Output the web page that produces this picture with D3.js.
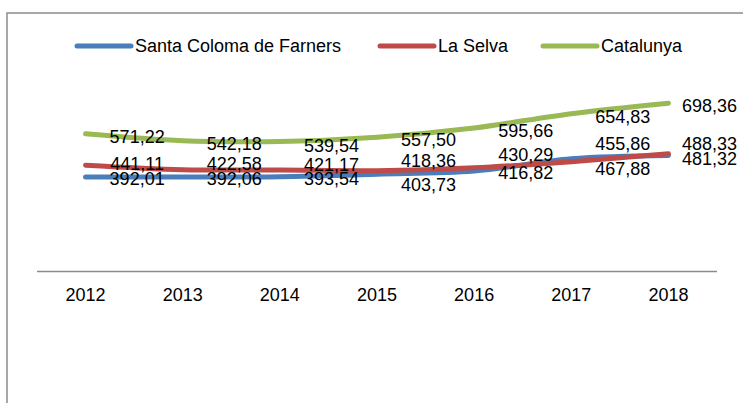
<!DOCTYPE html>
<html lang="ca">
<head>
    <meta charset="utf-8">
    <title>Santa Coloma de Farners, La Selva, Catalunya</title>
    <script src="https://d3js.org/d3.v7.min.js"></script>
    <style type="text/css">
        body { margin: 0; background: #fff; }
        text { font-family: "Liberation Sans", Arial, sans-serif; fill: #000; }
    </style>
</head>
<body>
<script type="text/javascript">
    // Data
    var years = ["2012", "2013", "2014", "2015", "2016", "2017", "2018"];
    var seriesNames = ["Santa Coloma de Farners", "La Selva", "Catalunya"];
    var santaColoma = [392.01, 392.06, 393.54, 403.73, 416.82, 467.88, 481.32];
    var laSelva = [441.11, 422.58, 421.17, 418.36, 430.29, 455.86, 488.33];
    var catalunya = [571.22, 542.18, 539.54, 557.50, 595.66, 654.83, 698.36];

    // Layout only: label nudges (px) per series, like hand-moved Excel labels
    var labelNudge = [
        [2, 2, 2, 10, 2, 10, 3],
        [-1, -6, -5, -10, -13, -18, -10],
        [3, 3, 4, 3, 3, 3, 3]
    ];

    var w = 743, h = 403;
    var colors = ["#4a7ebb", "#be4b48", "#98b954"];
    var series = [santaColoma, laSelva, catalunya];

    var svg = d3.select("body").append("svg")
        .attr("width", w)
        .attr("height", h);

    // outer frame (cut off at the right and bottom)
    svg.append("rect")
        .attr("x", 7).attr("y", 13)
        .attr("width", 800).attr("height", 500)
        .attr("fill", "none")
        .attr("stroke", "#8c8c8c")
        .attr("stroke-width", 1.5);

    var x = d3.scaleBand().domain(years).range([37, 717]);
    var y = d3.scaleLinear().domain([0, 1000]).range([271.5, 30.5]);
    var cx = function(d) { return x(d) + x.bandwidth() / 2; };

    // category axis
    svg.append("line")
        .attr("x1", 37).attr("x2", 717)
        .attr("y1", y(0)).attr("y2", y(0))
        .attr("stroke", "#8c8c8c")
        .attr("stroke-width", 1.3);

    svg.selectAll(".year")
        .data(years)
        .enter().append("text")
        .attr("class", "year")
        .attr("x", cx)
        .attr("y", 301)
        .attr("text-anchor", "middle")
        .style("font-size", "18px")
        .text(function(d) { return d; });

    var line = d3.line()
        .x(function(d, i) { return cx(years[i]); })
        .y(function(d) { return y(d); })
        .curve(d3.curveCatmullRom.alpha(0.5));

    series.forEach(function(s, k) {
        svg.append("path")
            .attr("d", line(s))
            .attr("fill", "none")
            .attr("stroke", colors[k])
            .attr("stroke-width", 5)
            .attr("stroke-linecap", "round");
    });

    // data labels
    var fmt = function(v) { return d3.format(".2f")(v).replace(".", ","); };
    series.forEach(function(s, k) {
        svg.selectAll(".lab" + k)
            .data(s)
            .enter().append("text")
            .attr("class", "lab" + k)
            .attr("text-anchor", "middle")
            .attr("dy", "0.35em")
            .style("font-size", "18px")
            .text(function(d) { return fmt(d); })
            .attr("x", function(d, i) {
                var half = this.getComputedTextLength() / 2;
                var c = cx(years[i]) + x.bandwidth() / 2 + 3;
                return Math.min(c, w - 6 - half);
            })
            .attr("y", function(d, i) { return y(d) + labelNudge[k][i]; });
    });

    // legend
    var legendX = [77, 380, 543];
    var legend = svg.selectAll(".legend")
        .data(seriesNames)
        .enter().append("g")
        .attr("class", "legend")
        .attr("transform", function(d, i) { return "translate(" + legendX[i] + ",46)"; });

    legend.append("line")
        .attr("x1", 0).attr("x2", 54)
        .attr("stroke", function(d, i) { return colors[i]; })
        .attr("stroke-width", 5)
        .attr("stroke-linecap", "round");

    legend.append("text")
        .attr("x", 58)
        .attr("dy", "0.35em")
        .style("font-size", "18px")
        .text(function(d) { return d; });
</script>
</body>
</html>
